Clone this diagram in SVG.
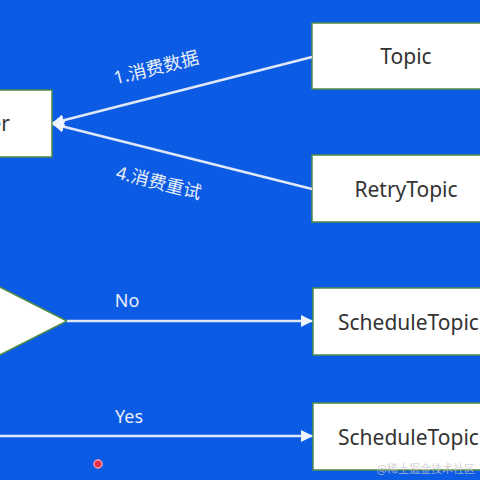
<svg xmlns="http://www.w3.org/2000/svg" width="480" height="480" viewBox="0 0 480 480">
<defs>
<style>
.box{fill:#ffffff;stroke:#4f8a4a;stroke-width:1.5}
.t{font-family:"Noto Sans","Liberation Sans",sans-serif;font-size:21px;fill:#333333;text-anchor:middle;dominant-baseline:central}
.lbl{font-family:"Noto Sans","Noto Sans CJK SC",sans-serif;font-size:18px;fill:#e8eefa;text-anchor:middle;dominant-baseline:central}
.ln{stroke:#dfe8f8;stroke-width:2.5;fill:none}
</style>
<marker id="ah" markerWidth="12" markerHeight="12" refX="11" refY="6" orient="auto" markerUnits="userSpaceOnUse">
<path d="M0,0 L12,6 L0,12 Z" fill="#eef3fc"/>
</marker>
</defs>
<rect width="480" height="480" fill="#0b5be4"/>
<g id="consumer"><rect class="box" x="-100" y="90" width="152" height="67"/><text class="t" x="10" y="123" text-anchor="end" style="text-anchor:end">Consumer</text></g>
<g id="topic"><rect class="box" x="312" y="23" width="190" height="66"/><text class="t" x="406" y="56">Topic</text></g>
<g id="retrytopic"><rect class="box" x="312" y="155" width="190" height="67"/><text class="t" x="406" y="189">RetryTopic</text></g>
<g id="decision"><polygon class="box" points="-20,277 67,321 -20,365"/></g>
<g id="schedule1"><rect class="box" x="313" y="288" width="190" height="67"/><text class="t" x="338" y="322" style="text-anchor:start">ScheduleTopic</text></g>
<g id="schedule2"><rect class="box" x="313" y="403" width="190" height="67"/><text class="t" x="338" y="437" style="text-anchor:start">ScheduleTopic</text></g>
<g id="connectors">
<line class="ln" x1="312" y1="57" x2="53" y2="123" marker-end="url(#ah)"/>
<line class="ln" x1="312" y1="189" x2="53" y2="124" marker-end="url(#ah)"/>
<line class="ln" x1="67" y1="321" x2="312" y2="321" marker-end="url(#ah)"/>
<line class="ln" x1="0" y1="436" x2="312" y2="436" marker-end="url(#ah)"/>
<text class="lbl" x="156" y="67" transform="rotate(-14.3 156 67)">1.消费数据</text>
<text class="lbl" x="159" y="182" transform="rotate(14.1 159 182)">4.消费重试</text>
<text class="lbl" x="127" y="300">No</text>
<text class="lbl" x="129" y="416">Yes</text>
</g>
<circle cx="98" cy="464" r="4" fill="#e0304a" stroke="#ff9aa8" stroke-width="1.5"/>
<text x="475" y="473" font-family="'Noto Sans CJK SC',sans-serif" font-size="11" fill="#c8c8c8" fill-opacity="0.8" text-anchor="end">@稀土掘金技术社区</text>
</svg>
